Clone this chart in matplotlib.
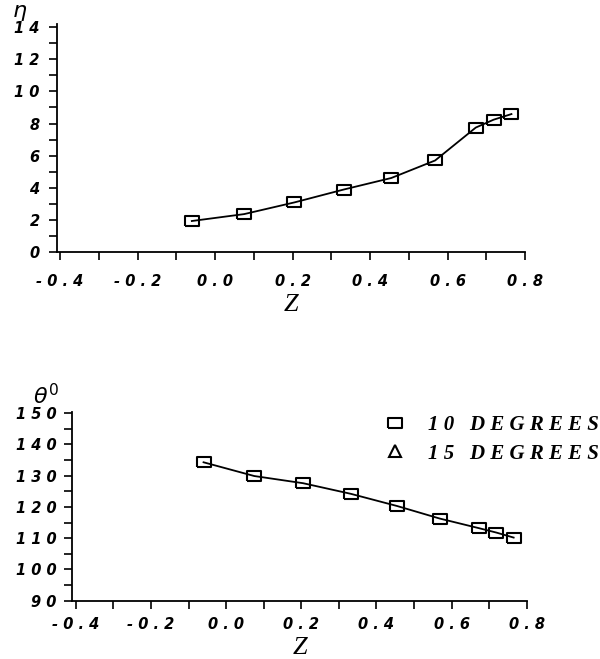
import matplotlib
matplotlib.use('Agg')
import matplotlib.pyplot as plt
from matplotlib.lines import Line2D
from matplotlib.font_manager import FontProperties
from matplotlib.ticker import MultipleLocator, FixedLocator, FixedFormatter

# axial position of the stations
z = [-0.06, 0.075, 0.205, 0.332, 0.455, 0.568, 0.673, 0.719, 0.765]

# eta along z (10 degree cone)
eta = [1.93, 2.36, 3.09, 3.89, 4.61, 5.70, 7.75, 8.24, 8.59]

# theta (deg) along z (10 degree cone)
theta = [134.3, 129.9, 127.6, 124.2, 120.3, 116.3, 113.2, 111.8, 110.2]

z_ticks = [-0.4, -0.2, 0.0, 0.2, 0.4, 0.6, 0.8]
eta_ticks = [0, 2, 4, 6, 8, 10, 12, 14]
theta_ticks = [90, 100, 110, 120, 130, 140, 150]
legend_labels = ['1 0   D E G R E E S', '1 5   D E G R E E S']


def spaced(v, fmt):
  # wide tracking on the tick labels
  return ' '.join(fmt % v)


# open, slightly flattened box marker
box = [(-1.35, -1), (1.35, -1), (1.35, 1), (-1.35, 1), (-1.35, -1)]

tick_font = FontProperties(family='DejaVu Sans', weight='bold', style='italic', size=10.5)

fig = plt.figure(figsize=(6.0, 6.59), dpi=100)


def style_axes(ax, xpad, ypad):
  for side in ['top', 'right']:
    ax.spines[side].set_visible(False)
  for side in ['left', 'bottom']:
    ax.spines[side].set_linewidth(1.3)
  ax.tick_params(which='both', direction='out', length=5.5, width=1.2)
  ax.tick_params(axis='x', which='both', pad=xpad)
  ax.tick_params(axis='y', which='both', pad=ypad)
  ax.xaxis.set_major_locator(FixedLocator(z_ticks))
  ax.xaxis.set_major_formatter(FixedFormatter([spaced(t, '%.1f') for t in z_ticks]))
  ax.xaxis.set_minor_locator(MultipleLocator(0.1))
  for lab in ax.get_xticklabels() + ax.get_yticklabels():
    lab.set_fontproperties(tick_font)


# plot 1: eta
ax1 = fig.add_axes([0.095, 0.6176, 0.78, 0.346])
ax1.plot(z, eta, color='black', lw=1.3, marker=box, markersize=10.5,
         markerfacecolor='none', markeredgecolor='black', markeredgewidth=1.5)
ax1.set_xlim(-0.408, 0.8)
ax1.set_ylim(0, 14.2)
ax1.yaxis.set_major_locator(FixedLocator(eta_ticks))
ax1.yaxis.set_major_formatter(FixedFormatter([spaced(t, '%d') for t in eta_ticks]))
ax1.yaxis.set_minor_locator(MultipleLocator(1))
style_axes(ax1, 10.5, 7)

# plot 2: theta
ax2 = fig.add_axes([0.12, 0.0885, 0.758, 0.2868])
ax2.plot(z, theta, color='black', lw=1.3, marker=box, markersize=10.5,
         markerfacecolor='none', markeredgecolor='black', markeredgewidth=1.5)
ax2.set_xlim(-0.41, 0.8)
ax2.set_ylim(90, 150.5)
ax2.yaxis.set_major_locator(FixedLocator(theta_ticks))
ax2.yaxis.set_major_formatter(FixedFormatter([spaced(t, '%d') for t in theta_ticks]))
ax2.yaxis.set_minor_locator(MultipleLocator(5))
style_axes(ax2, 6.5, 5.5)

# axis titles
fig.text(291 / 600, 1 - 305 / 659, 'Z', family='Liberation Serif', style='italic',
         size=19, ha='center', va='center')
fig.text(300 / 600, 1 - 648 / 659, 'Z', family='Liberation Serif', style='italic',
         size=19, ha='center', va='center')
fig.text(12 / 600, 1 - 3 / 659, r'$\eta$', size=16, ha='left', va='top')
fig.text(33 / 600, 1 - 396 / 659, r'$\theta^0$', size=16, ha='left', va='center')

handles = [
  Line2D([], [], ls='none', marker=box, markersize=10.5, markerfacecolor='none',
         markeredgecolor='black', markeredgewidth=1.5),
  Line2D([], [], ls='none', marker='^', markersize=8, markerfacecolor='none',
         markeredgecolor='black', markeredgewidth=1.5),
]
fig.legend(handles, legend_labels, loc='upper left',
           bbox_to_anchor=(372 / 600, 1 - 405 / 659), frameon=False,
           handlelength=1.2, handletextpad=1.0, labelspacing=0.4, borderpad=0,
           prop=dict(family='Liberation Serif', weight='bold', style='italic', size=15))

fig.savefig('out.png', dpi=100)
